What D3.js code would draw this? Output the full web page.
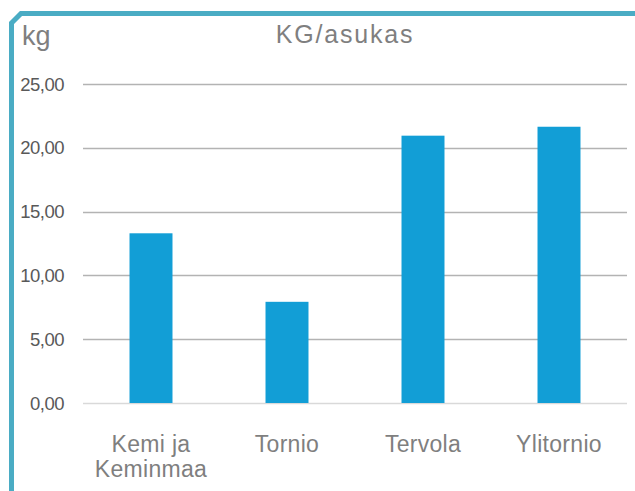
<!DOCTYPE html>
<html>
<head>
<meta charset="utf-8">
<script src="https://cdn.jsdelivr.net/npm/d3@7"></script>
<style>
  html, body { margin: 0; padding: 0; background: #fff; }
  text { font-family: "Liberation Sans", Arial, sans-serif; }
</style>
</head>
<body>
<div id="chart"></div>
<script>
// data
const categories = [["Kemi ja", "Keminmaa"], ["Tornio"], ["Tervola"], ["Ylitornio"]];
const values = [13.3, 7.93, 20.95, 21.65];
const yTicks = [0, 5, 10, 15, 20, 25];

const width = 635;
const height = 491;
const margin = { top: 84, right: 8, bottom: 88, left: 83 };

const svg = d3.select('#chart')
    .append('svg')
    .attr('width', width)
    .attr('height', height);

// teal frame with the cut corner
svg.append('path')
    .attr('d', 'M11.5,491 L11.5,23 L21,13.5 L635,13.5')
    .attr('fill', 'none')
    .attr('stroke', '#4aacc4')
    .attr('stroke-width', 5);

const x = d3.scaleBand()
    .domain(d3.range(categories.length))
    .range([margin.left, width - margin.right])
    .paddingInner(0.684)
    .paddingOuter(0.342);

const y = d3.scaleLinear()
    .domain([0, 25])
    .range([height - margin.bottom, margin.top]);

// gridlines
svg.append('g')
    .selectAll('line')
    .data(yTicks)
    .enter()
    .append('line')
    .attr('x1', margin.left)
    .attr('x2', width - margin.right)
    .attr('y1', d => Math.round(y(d)) + 0.5)
    .attr('y2', d => Math.round(y(d)) + 0.5)
    .attr('stroke', d => d === 0 ? '#d9d9d9' : '#b3b3b3')
    .attr('stroke-width', 1.5);

// y labels
svg.append('g')
    .selectAll('text')
    .data(yTicks)
    .enter()
    .append('text')
    .attr('x', 64)
    .attr('y', d => y(d) + 6.5)
    .attr('text-anchor', 'end')
    .style('font-size', '18.5px')
    .style('letter-spacing', '-0.5px')
    .attr('fill', '#595959')
    .text(d => d3.format('.2f')(d).replace('.', ','));

// bars
svg.append('g')
    .selectAll('rect')
    .data(values)
    .enter()
    .append('rect')
    .attr('x', (d, i) => x(i))
    .attr('width', x.bandwidth())
    .attr('y', d => y(d))
    .attr('height', d => y(0) - y(d))
    .attr('fill', '#129ed6');

// category labels
const catLabels = svg.append('g')
    .selectAll('text')
    .data(categories)
    .enter()
    .append('text')
    .attr('text-anchor', 'middle')
    .style('font-size', '23px')
    .style('letter-spacing', '0.3px')
    .attr('fill', '#7f7f7f');

catLabels.selectAll('tspan')
    .data((d, i) => d.map(line => ({ line, i })))
    .enter()
    .append('tspan')
    .attr('x', d => x(d.i) + x.bandwidth() / 2)
    .attr('y', (d, j) => 452 + j * 24.5)
    .text(d => d.line);

// title and unit
svg.append('text')
    .attr('x', 345)
    .attr('y', 43)
    .attr('text-anchor', 'middle')
    .style('font-size', '25px')
    .style('letter-spacing', '1.8px')
    .attr('fill', '#7f7f7f')
    .text('KG/asukas');

svg.append('text')
    .attr('x', 22)
    .attr('y', 45)
    .style('font-size', '27px')
    .attr('fill', '#7f7f7f')
    .text('kg');
</script>
</body>
</html>
